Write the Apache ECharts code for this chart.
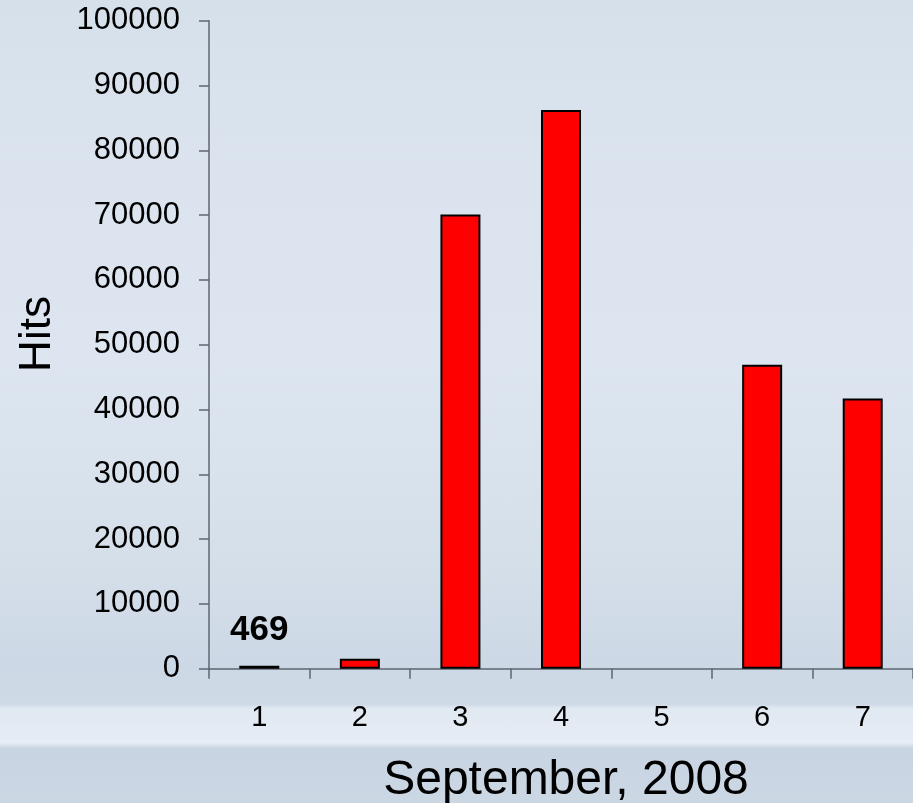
<!DOCTYPE html>
<html>
<head>
<meta charset="utf-8">
<script src="https://cdn.jsdelivr.net/npm/echarts@6/dist/echarts.min.js"></script>
<style>
  html, body { margin: 0; padding: 0; }
  body {
    width: 913px; height: 803px; overflow: hidden;
    background: linear-gradient(to bottom,
      #d6e0eb 0%, #dbe4ee 20%, #dde6f0 45%, #d5dfea 70%,
      #ccd8e5 83%, #cfdae6 87.7%, #e0e8f1 88.2%, #e7edf5 92.5%,
      #c8d4e2 93.2%, #ccd7e4 100%);
  }
  #chart { width: 913px; height: 803px; }
</style>
</head>
<body>
<div id="chart"></div>
<script>
// ---- data ----
const days = ['1', '2', '3', '4', '5', '6', '7'];
const hits = [469, 1550, 70100, 86200, 0, 46900, 41700];
const labeledDays = ['1'];
const yTicks = { min: 0, max: 100000, interval: 10000 };
const yTitle = 'Hits';
const xTitle = 'September, 2008';

const FONT = '"Liberation Sans", Arial, sans-serif';

const seriesData = hits.map((v, i) => {
  const item = { value: v };
  if (v === 0) item.itemStyle = { borderWidth: 0 };
  if (labeledDays.includes(days[i])) {
    item.label = {
      show: true, position: 'top', distance: 18,
      fontFamily: FONT, fontWeight: 'bold', fontSize: 35, color: '#000'
    };
  }
  return item;
});

const chart = echarts.init(document.getElementById('chart'), null, { renderer: 'canvas' });
chart.setOption({
  backgroundColor: 'transparent',
  animation: false,
  grid: { left: 209, top: 20.7, width: 708, height: 648, containLabel: false },
  xAxis: {
    type: 'category',
    data: days,
    boundaryGap: true,
    axisLine: { lineStyle: { color: '#5f6670', width: 1.5 } },
    axisTick: { show: true, alignWithLabel: false, length: 10, inside: false,
                lineStyle: { color: '#5f6670', width: 1.5 } },
    axisLabel: { margin: 35, fontFamily: FONT, fontSize: 29, color: '#000' },
    splitLine: { show: false }
  },
  yAxis: {
    type: 'value',
    min: yTicks.min, max: yTicks.max, interval: yTicks.interval,
    axisLine: { show: true, lineStyle: { color: '#5f6670', width: 1.5 } },
    axisTick: { show: true, length: 10, lineStyle: { color: '#5f6670', width: 1.5 } },
    axisLabel: { margin: 29, fontFamily: FONT, fontSize: 31, color: '#000',
                 formatter: v => String(v) },
    splitLine: { show: false }
  },
  series: [{
    type: 'bar',
    data: seriesData,
    barWidth: 40,
    itemStyle: { color: '#ff0000', borderColor: '#000', borderWidth: 2 },
    label: { show: false }
  }],
  graphic: [
    {
      type: 'text', x: 38, y: 334, rotation: Math.PI / 2,
      style: { text: yTitle, font: '44px ' + FONT, fill: '#000',
               textAlign: 'center', textVerticalAlign: 'middle' }
    },
    {
      type: 'text', x: 566, y: 781,
      style: { text: xTitle, font: '48px ' + FONT, fill: '#000',
               textAlign: 'center', textVerticalAlign: 'middle' }
    }
  ]
});
</script>
</body>
</html>
